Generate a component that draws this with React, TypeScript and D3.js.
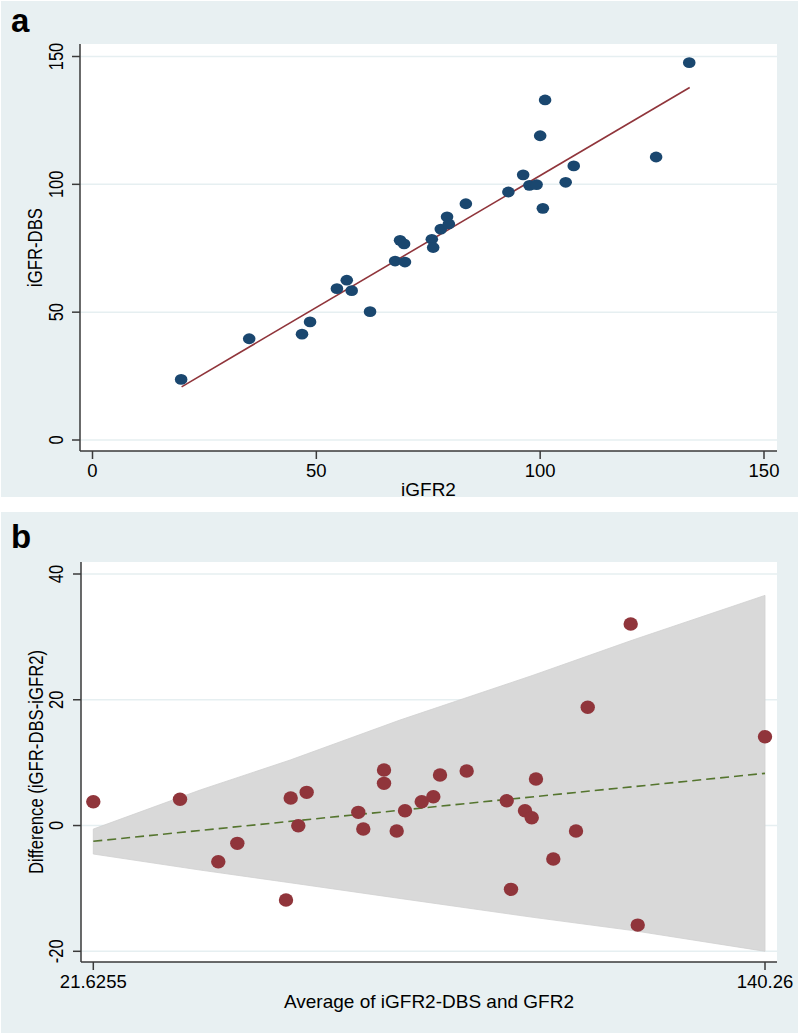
import React from "react";
import * as d3 from "d3";

// ---------- Panel a data: iGFR2 vs iGFR-DBS ----------
const aIGFR2 = [19.8, 35.0, 46.8, 48.6, 54.6, 56.8, 57.9, 62.0, 67.6, 68.7, 69.6, 69.8, 75.8, 76.1, 77.8, 79.2, 79.6, 83.4, 92.9, 96.2, 97.6, 99.2, 100.0, 101.1, 100.6, 105.7, 107.5, 125.9, 133.3];
const aDBS = [23.7, 39.6, 41.4, 46.2, 59.2, 62.5, 58.4, 50.2, 70.0, 78.1, 76.7, 69.6, 78.5, 75.3, 82.5, 87.3, 84.5, 92.4, 97.0, 103.7, 99.6, 99.9, 119.0, 133.0, 90.6, 100.8, 107.2, 110.7, 147.6];
const aFitX = [19.9, 133.4];
const aFitY = [20.8, 137.9];
const aTicks = [0, 50, 100, 150];

// ---------- Panel b data: Bland-Altman ----------
const bAvg = [21.6255, 36.94, 43.70, 47.06, 55.66, 56.49, 57.83, 59.31, 68.43, 69.31, 72.97, 72.97, 75.21, 76.68, 79.63, 81.68, 82.86, 87.57, 94.64, 95.40, 97.87, 99.06, 99.81, 102.87, 106.88, 108.95, 116.54, 117.78, 140.26];
const bDiff = [3.79, 4.17, -5.76, -2.83, -11.85, 4.37, -0.03, 5.28, 2.10, -0.56, 8.83, 6.71, -0.87, 2.35, 3.79, 4.58, 8.03, 8.67, 3.94, -10.15, 2.35, 1.24, 7.40, -5.33, -0.87, 18.80, 32.05, -15.83, 14.12];
const bandX = [21.6255, 40.5, 56.4, 75.8, 99.3, 116.9, 140.26];
const bandUpper = [-0.56, 5.65, 10.42, 16.78, 23.9, 29.5, 36.6];
const bandLower = [-4.53, -7.08, -9.1, -11.6, -14.6, -16.7, -20.0];
const meanX = [21.6255, 140.26];
const meanY = [-2.5, 8.3];
const bXTicks = [21.6255, 140.26];
const bXTickLabels = ["21.6255", "140.26"];
const bYTicks = [-20, 0, 20, 40];

const FONT = "'Liberation Sans', Arial, Helvetica, sans-serif";
const BG = "#e8f0f2";
const GRID = "#e6eff1";
const AXIS = "#3a3a3a";
const NAVY = "#1a476f";
const MAROON = "#90353b";
const GREEN = "#55752f";

export default function App() {
  // Panel a scales
  const ax = d3.scaleLinear().domain([0, 150]).range([92.5, 764]);
  const ay = d3.scaleLinear().domain([0, 150]).range([440, 56.5]);
  const aPlot = { l: 80, r: 777, t: 44, b: 451 };

  // Panel b scales
  const bx = d3.scaleLinear().domain([21.6255, 140.26]).range([93.3, 765]);
  const by = d3.scaleLinear().domain([-20, 40]).range([951.3, 574]);
  const bPlot = { l: 81, r: 777, t: 562, b: 962 };

  const fitLine = d3.line<number>().x((_, i) => ax(aFitX[i])).y((_, i) => ay(aFitY[i]));
  const meanLine = d3.line<number>().x((_, i) => bx(meanX[i])).y((_, i) => by(meanY[i]));
  const band = d3
    .area<number>()
    .x((_, i) => bx(bandX[i]))
    .y0((_, i) => by(bandLower[i]))
    .y1((_, i) => by(bandUpper[i]));

  const rotText = (x: number, y: number, size: number, txt: string, key?: string) => (
    <text
      key={key}
      transform={`translate(${x},${y}) rotate(-90) scale(1,1.25)`}
      textAnchor="middle"
      fontFamily={FONT}
      fontSize={size}
      fill="#000"
    >
      {txt}
    </text>
  );

  return (
    <svg width={800} height={1035} style={{ position: "absolute", left: 0, top: 0 }}>
      <rect x={0} y={0} width={800} height={1035} fill="#fff" />
      {/* ---------------- Panel a ---------------- */}
      <rect x={1} y={1} width={797} height={496} fill={BG} />
      <rect x={aPlot.l} y={aPlot.t} width={aPlot.r - aPlot.l} height={aPlot.b - aPlot.t} fill="#fff" />
      {aTicks.map((t) => (
        <line key={"ag" + t} x1={aPlot.l} x2={aPlot.r} y1={ay(t)} y2={ay(t)} stroke={GRID} strokeWidth={1.5} />
      ))}
      <path d={fitLine(aFitX) || ""} fill="none" stroke={MAROON} strokeWidth={1.6} />
      {aIGFR2.map((v, i) => (
        <ellipse key={"ap" + i} cx={ax(v)} cy={ay(aDBS[i])} rx={6.3} ry={5.4} fill={NAVY} />
      ))}
      <line x1={aPlot.l} x2={aPlot.l} y1={aPlot.t} y2={aPlot.b} stroke={AXIS} strokeWidth={1.5} />
      <line x1={aPlot.l} x2={aPlot.r} y1={aPlot.b} y2={aPlot.b} stroke={AXIS} strokeWidth={1.5} />
      {aTicks.map((t) => (
        <g key={"ayt" + t}>
          <line x1={aPlot.l - 8} x2={aPlot.l} y1={ay(t)} y2={ay(t)} stroke={AXIS} strokeWidth={1.5} />
          {rotText(63, ay(t), 16.5, String(t))}
        </g>
      ))}
      {aTicks.map((t) => (
        <g key={"axt" + t}>
          <line x1={ax(t)} x2={ax(t)} y1={aPlot.b} y2={aPlot.b + 8} stroke={AXIS} strokeWidth={1.5} />
          <text x={ax(t)} y={477} textAnchor="middle" fontFamily={FONT} fontSize={18.5} fill="#000">
            {t}
          </text>
        </g>
      ))}
      <text x={(aPlot.l + aPlot.r) / 2} y={496} textAnchor="middle" fontFamily={FONT} fontSize={19} fill="#000">
        iGFR2
      </text>
      {rotText(42, (aPlot.t + aPlot.b) / 2, 16.7, "iGFR-DBS")}
      <text x={11} y={32} fontFamily={FONT} fontSize={33} fontWeight="bold" fill="#000">
        a
      </text>

      {/* ---------------- Panel b ---------------- */}
      <rect x={1} y={512} width={797} height={521} fill={BG} />
      <rect x={bPlot.l} y={bPlot.t} width={bPlot.r - bPlot.l} height={bPlot.b - bPlot.t} fill="#fff" />
      {bYTicks.map((t) => (
        <line key={"bg" + t} x1={bPlot.l} x2={bPlot.r} y1={by(t)} y2={by(t)} stroke={GRID} strokeWidth={1.5} />
      ))}
      <path d={band(bandX) || ""} fill="#d9d9d9" stroke="#d0d0d0" strokeWidth={0.8} />
      <path d={meanLine(meanX) || ""} fill="none" stroke={GREEN} strokeWidth={1.6} strokeDasharray="9,5" />
      {bAvg.map((v, i) => (
        <ellipse key={"bp" + i} cx={bx(v)} cy={by(bDiff[i])} rx={7.2} ry={6.7} fill={MAROON} />
      ))}
      <line x1={bPlot.l} x2={bPlot.l} y1={bPlot.t} y2={bPlot.b} stroke={AXIS} strokeWidth={1.5} />
      <line x1={bPlot.l} x2={bPlot.r} y1={bPlot.b} y2={bPlot.b} stroke={AXIS} strokeWidth={1.5} />
      {bYTicks.map((t) => (
        <g key={"byt" + t}>
          <line x1={bPlot.l - 8} x2={bPlot.l} y1={by(t)} y2={by(t)} stroke={AXIS} strokeWidth={1.5} />
          {rotText(63, by(t), 16.5, String(t))}
        </g>
      ))}
      {bXTicks.map((t, i) => (
        <g key={"bxt" + i}>
          <line x1={bx(t)} x2={bx(t)} y1={bPlot.b} y2={bPlot.b + 8} stroke={AXIS} strokeWidth={1.5} />
          <text x={bx(t)} y={988} textAnchor="middle" fontFamily={FONT} fontSize={18.5} fill="#000">
            {bXTickLabels[i]}
          </text>
        </g>
      ))}
      <text x={(bPlot.l + bPlot.r) / 2} y={1008} textAnchor="middle" fontFamily={FONT} fontSize={19} fill="#000">
        Average of iGFR2-DBS and GFR2
      </text>
      {rotText(43, (bPlot.t + bPlot.b) / 2, 16.7, "Difference (iGFR-DBS-iGFR2)")}
      <text x={11} y={548} fontFamily={FONT} fontSize={33} fontWeight="bold" fill="#000">
        b
      </text>
    </svg>
  );
}
